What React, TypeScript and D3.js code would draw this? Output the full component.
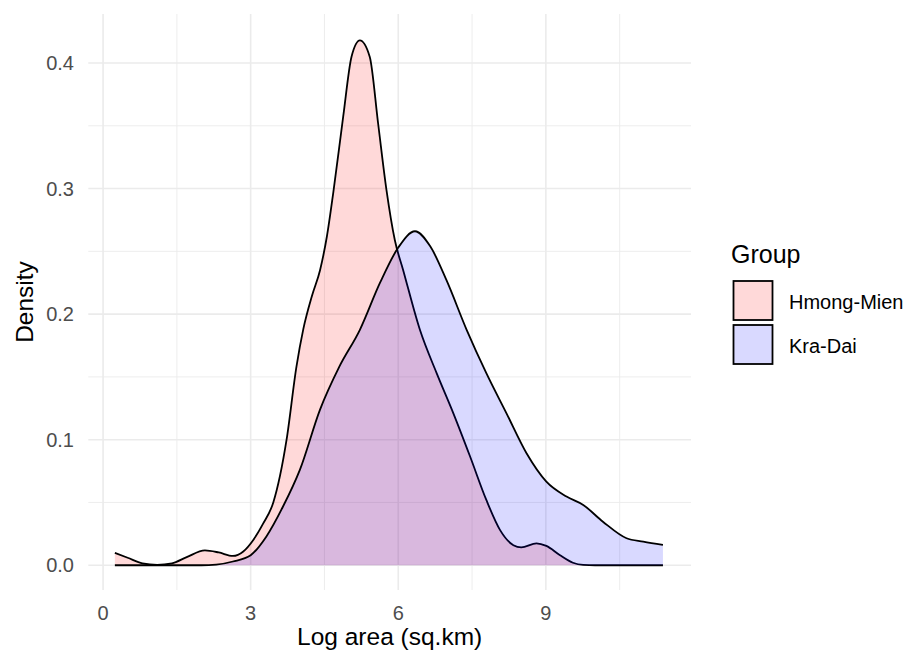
import * as d3 from 'd3';
import {useEffect, useRef} from 'react';

const width = 917;
const height = 658;

// density estimates (x = log area, y = density)
const hmongX = [0.24, 0.5, 0.8, 1.1, 1.4, 1.7, 2.07, 2.35, 2.64, 2.85, 3.05, 3.25, 3.46, 3.73, 3.93, 4.07, 4.25, 4.41, 4.55, 4.68, 4.88, 5.05, 5.22, 5.42, 5.59, 5.76, 5.93, 6.1, 6.44, 6.78, 7.12, 7.46, 7.79, 8.07, 8.34, 8.5, 8.81, 9.01, 9.28, 9.55, 9.76, 10.0, 10.5, 11.0, 11.38];
const hmongY = [0.0098, 0.006, 0.0015, 0.0003, 0.0015, 0.0065, 0.0118, 0.0102, 0.0074, 0.011, 0.02, 0.033, 0.05, 0.1, 0.158, 0.188, 0.215, 0.235, 0.262, 0.297, 0.357, 0.405, 0.418, 0.405, 0.352, 0.299, 0.259, 0.235, 0.1875, 0.153, 0.121, 0.0866, 0.052, 0.028, 0.016, 0.0143, 0.0175, 0.0154, 0.0082, 0.002, 0.0003, 0, 0, 0, 0];

const kraX = [0.24, 1.0, 2.0, 2.3, 2.64, 3.0, 3.32, 3.66, 4.0, 4.41, 4.8, 5.22, 5.63, 6.0, 6.34, 6.65, 6.98, 7.39, 7.79, 8.2, 8.61, 9.01, 9.42, 9.76, 10.16, 10.64, 10.98, 11.38];
const kraY = [0, 0, 0, 0.0005, 0.003, 0.008, 0.023, 0.047, 0.076, 0.124, 0.158, 0.1875, 0.225, 0.253, 0.266, 0.254, 0.227, 0.1875, 0.153, 0.121, 0.089, 0.0666, 0.0547, 0.048, 0.0347, 0.0215, 0.0188, 0.0162];

const groups = ['Hmong-Mien', 'Kra-Dai'];
const fills = ['red', 'blue'];

const xTicks = [0, 3, 6, 9];
const xMinor = [1.5, 4.5, 7.5, 10.5];
const yTicks = [0, 0.1, 0.2, 0.3, 0.4];
const yMinor = [0.05, 0.15, 0.25, 0.35];

function App() {
  const ref = useRef(null);

  useEffect(() => {
    const left = 88.3, right = 691, top = 14, bottom = 590;

    const x = d3.scaleLinear().domain([-0.3, 11.95]).range([left, right]);
    const y = d3.scaleLinear().domain([-0.0197, 0.439]).range([bottom, top]);

    const svg = d3
      .select(ref.current)
      .append('svg')
      .attr('width', width)
      .attr('height', height)
      .style('display', 'block')
      .style('font-family', '"Liberation Sans", Arial, sans-serif');

    svg.append('rect').attr('width', width).attr('height', height).attr('fill', 'white');

    const grid = svg.append('g');
    grid.selectAll('.vmin').data(xMinor).join('line')
      .attr('x1', d => x(d)).attr('x2', d => x(d)).attr('y1', top).attr('y2', bottom)
      .attr('stroke', '#EBEBEB').attr('stroke-width', 0.9);
    grid.selectAll('.hmin').data(yMinor).join('line')
      .attr('y1', d => y(d)).attr('y2', d => y(d)).attr('x1', left).attr('x2', right)
      .attr('stroke', '#EBEBEB').attr('stroke-width', 0.9);
    grid.selectAll('.vmaj').data(xTicks).join('line')
      .attr('x1', d => x(d)).attr('x2', d => x(d)).attr('y1', top).attr('y2', bottom)
      .attr('stroke', '#EBEBEB').attr('stroke-width', 1.6);
    grid.selectAll('.hmaj').data(yTicks).join('line')
      .attr('y1', d => y(d)).attr('y2', d => y(d)).attr('x1', left).attr('x2', right)
      .attr('stroke', '#EBEBEB').attr('stroke-width', 1.6);

    const series = [
      d3.zip(hmongX, hmongY),
      d3.zip(kraX, kraY),
    ];

    const area = d3.area()
      .x(d => x(d[0]))
      .y0(y(0))
      .y1(d => y(d[1]))
      .curve(d3.curveMonotoneX);
    const line = d3.line()
      .x(d => x(d[0]))
      .y(d => y(d[1]))
      .curve(d3.curveMonotoneX);

    series.forEach((s, i) => {
      svg.append('path').datum(s)
        .attr('d', area)
        .attr('fill', fills[i])
        .attr('fill-opacity', 0.15);
      svg.append('path').datum(s)
        .attr('d', line)
        .attr('fill', 'none')
        .attr('stroke', 'black')
        .attr('stroke-width', 1.8);
    });

    // tick labels
    svg.selectAll('.xt').data(xTicks).join('text')
      .attr('x', d => x(d)).attr('y', 620)
      .attr('text-anchor', 'middle')
      .attr('font-size', 20).attr('fill', '#4D4D4D')
      .text(d => d);
    svg.selectAll('.yt').data(yTicks).join('text')
      .attr('x', 74).attr('y', d => y(d) + 7.2)
      .attr('text-anchor', 'end')
      .attr('font-size', 20).attr('fill', '#4D4D4D')
      .text(d => d3.format('.1f')(d));

    // axis titles
    svg.append('text')
      .attr('x', (left + right) / 2).attr('y', 645)
      .attr('text-anchor', 'middle')
      .attr('font-size', 24.5).attr('fill', 'black')
      .text('Log area (sq.km)');
    svg.append('text')
      .attr('transform', `translate(33, ${(top + bottom) / 2}) rotate(-90)`)
      .attr('text-anchor', 'middle')
      .attr('font-size', 24.5).attr('fill', 'black')
      .text('Density');

    // legend
    const lg = svg.append('g');
    lg.append('text')
      .attr('x', 731).attr('y', 263)
      .attr('font-size', 25).attr('fill', 'black')
      .text('Group');
    groups.forEach((g, i) => {
      lg.append('rect')
        .attr('x', 733.5).attr('y', 281 + i * 44)
        .attr('width', 39).attr('height', 39)
        .attr('fill', 'white');
      lg.append('rect')
        .attr('x', 733.5).attr('y', 281 + i * 44)
        .attr('width', 39).attr('height', 39)
        .attr('fill', fills[i]).attr('fill-opacity', 0.15)
        .attr('stroke', 'black').attr('stroke-width', 1.8);
      lg.append('text')
        .attr('x', 789).attr('y', 309 + i * 43.5)
        .attr('font-size', 20).attr('fill', 'black')
        .text(g);
    });

    return () => svg.remove();
  }, []);

  return <div ref={ref} style={{position: 'absolute', left: 0, top: 0}}></div>;
}

export default App;
